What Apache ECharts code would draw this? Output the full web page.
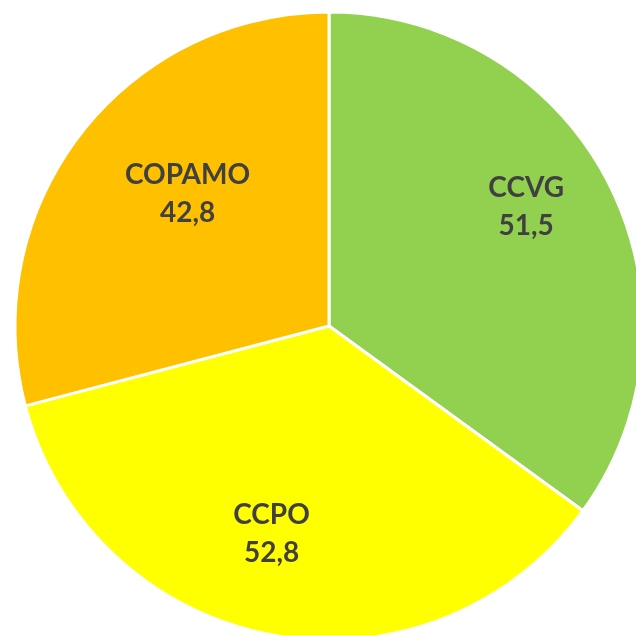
<!DOCTYPE html>
<html>
<head>
<meta charset="utf-8">
<script src="https://cdn.jsdelivr.net/npm/echarts@6/dist/echarts.min.js"></script>
<style>html,body{margin:0;padding:0;background:#fff}#c{width:636px;height:635px}</style>
</head>
<body>
<div id="c"></div>
<script>
const categories = ['CCVG', 'CCPO', 'COPAMO'];
const values = [51.5, 52.8, 42.8];
const colors = ['#92D050', '#FFFF00', '#FFC000'];
// small label nudges (px) to match the original label placement
const labelNudge = [[2, -20], [-17, -7], [32, 2]];

const chart = echarts.init(document.getElementById('c'), null, {renderer: 'canvas'});
const data = categories.map((n, i) => ({name: n, value: values[i], itemStyle: {color: colors[i]}}));
const labelData = categories.map((n, i) => ({name: n, value: values[i]}));
chart.setOption({
  animation: false,
  series: [
    {
      type: 'pie',
      center: [329, 326],
      radius: [0, 314],
      startAngle: 90,
      clockwise: true,
      silent: true,
      itemStyle: {borderColor: '#ffffff', borderWidth: 3},
      label: {show: false},
      labelLine: {show: false},
      data: data
    },
    {
      type: 'pie',
      center: [329, 326],
      radius: [118, 314],
      startAngle: 90,
      clockwise: true,
      silent: true,
      itemStyle: {color: 'rgba(0,0,0,0)', borderWidth: 0},
      label: {
        show: true,
        position: 'inside',
        formatter: p => p.name + '\n' + p.value.toFixed(1).replace('.', ','),
        fontFamily: 'Lato, "Open Sans", sans-serif',
        fontWeight: 'bold',
        fontSize: 28,
        lineHeight: 38,
        color: '#404040'
      },
      labelLayout: p => ({dx: labelNudge[p.dataIndex][0], dy: labelNudge[p.dataIndex][1]}),
      labelLine: {show: false},
      data: labelData
    }
  ]
});
</script>
</body>
</html>
